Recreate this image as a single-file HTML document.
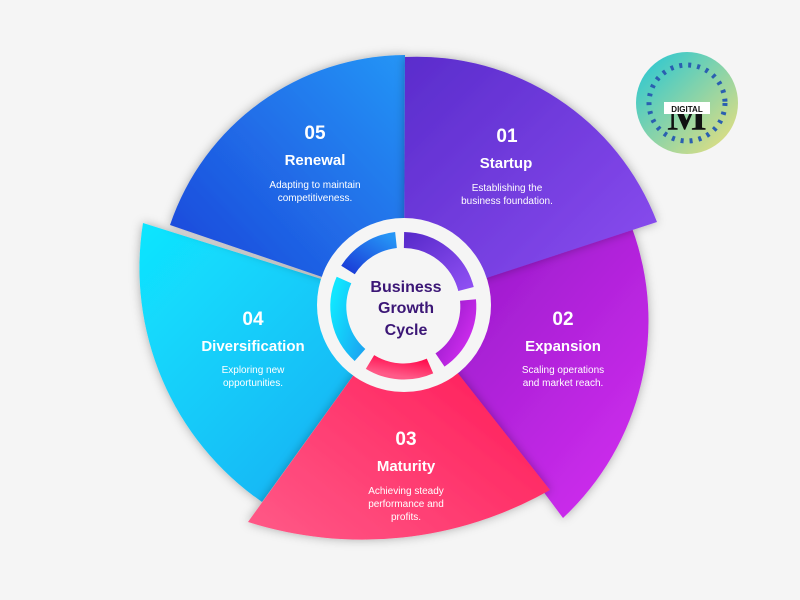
<!DOCTYPE html>
<html><head><meta charset="utf-8"><style>
body{margin:0;background:#f5f5f5;}
svg{display:block}
text{font-family:"Liberation Sans",sans-serif;fill:#fff;text-anchor:middle}
.n{font-size:19px;font-weight:bold}
.t{font-size:15px;font-weight:bold}
.d{font-size:10px}
.c{font-size:16px;font-weight:bold;fill:#3b1676}
</style></head><body>
<svg width="800" height="600" viewBox="0 0 800 600">
<defs>
<linearGradient id="g1" x1="0" y1="0" x2="1" y2="1"><stop offset="0" stop-color="#5a2ccc"/><stop offset="1" stop-color="#8e4ff2"/></linearGradient>
<linearGradient id="g2" x1="0" y1="0" x2="1" y2="1"><stop offset="0" stop-color="#8f17c4"/><stop offset="1" stop-color="#d52ff2"/></linearGradient>
<linearGradient id="g3" x1="1" y1="0" x2="0" y2="1"><stop offset="0" stop-color="#ff1050"/><stop offset="1" stop-color="#ff5a88"/></linearGradient>
<linearGradient id="g4" x1="0" y1="0" x2="1" y2="1"><stop offset="0" stop-color="#10e6ff"/><stop offset="1" stop-color="#1aa8f2"/></linearGradient>
<linearGradient id="g5" x1="0" y1="1" x2="1" y2="0"><stop offset="0" stop-color="#1b3fd8"/><stop offset="1" stop-color="#2595f6"/></linearGradient>
<linearGradient id="lg" x1="0" y1="0" x2="1" y2="1"><stop offset="0" stop-color="#1ec6d8"/><stop offset="1" stop-color="#f2e07a"/></linearGradient>
<filter id="sh" x="-20%" y="-20%" width="140%" height="140%"><feDropShadow dx="0" dy="0" stdDeviation="5" flood-opacity="0.3"/></filter>
</defs>
<path d="M404 305 L143 223 A285 285 0 0 0 262 502 Z" fill="url(#g4)" filter="url(#sh)"/>
<path d="M404 305 L632 228 A270 270 0 0 1 563 518 Z" fill="url(#g2)" filter="url(#sh)"/>
<path d="M404 305 L550 490 A380 380 0 0 1 248 522 Z" fill="url(#g3)" filter="url(#sh)"/>
<path d="M404 305 L170 225 A250 250 0 0 1 405 55 Z" fill="url(#g5)" filter="url(#sh)"/>
<path d="M404 305 L405 57 A257 257 0 0 1 657 222 Z" fill="url(#g1)" filter="url(#sh)"/>
<circle cx="404" cy="305" r="87" fill="#f5f5f5"/>
<g fill="none" stroke-width="16">
<path d="M404 240 A65 65 0 0 1 466 289" stroke="url(#g1)"/>
<path d="M468 300 A65 65 0 0 1 440 360" stroke="url(#g2)"/>
<path d="M430 366 A65 65 0 0 1 370 362" stroke="url(#g3)"/>
<path d="M360 355 A65 65 0 0 1 344 280" stroke="url(#g4)"/>
<path d="M348 270 A65 65 0 0 1 396 240" stroke="url(#g5)"/>
</g>
<circle cx="404" cy="305" r="56" fill="#f5f5f5"/>
<text class="c" x="406" y="292">Business</text>
<text class="c" x="406" y="313">Growth</text>
<text class="c" x="406" y="335">Cycle</text>
<text class="n" x="507" y="142">01</text><text class="t" x="506" y="168">Startup</text>
<text class="d" x="507" y="191">Establishing the</text><text class="d" x="507" y="204">business foundation.</text>
<text class="n" x="563" y="325">02</text><text class="t" x="563" y="351">Expansion</text>
<text class="d" x="563" y="373">Scaling operations</text><text class="d" x="563" y="386">and market reach.</text>
<text class="n" x="406" y="445">03</text><text class="t" x="406" y="471">Maturity</text>
<text class="d" x="406" y="494">Achieving steady</text><text class="d" x="406" y="507">performance and</text><text class="d" x="406" y="520">profits.</text>
<text class="n" x="253" y="325">04</text><text class="t" x="253" y="351">Diversification</text>
<text class="d" x="253" y="373">Exploring new</text><text class="d" x="253" y="386">opportunities.</text>
<text class="n" x="315" y="139">05</text><text class="t" x="315" y="165">Renewal</text>
<text class="d" x="315" y="188">Adapting to maintain</text><text class="d" x="315" y="201">competitiveness.</text>
<circle cx="687" cy="103" r="51" fill="url(#lg)"/>
<circle cx="687" cy="103" r="38" fill="none" stroke="#2a5fb0" stroke-width="5" stroke-dasharray="3 6"/>
<text x="687" y="130" style="font-family:'Liberation Serif',serif;font-size:42px;font-weight:bold;fill:#111">M</text>
<rect x="664" y="102" width="46" height="12" fill="#fff"/>
<text x="687" y="112" style="font-size:8px;font-weight:bold;fill:#111">DIGITAL</text>
</svg>
</body></html>
